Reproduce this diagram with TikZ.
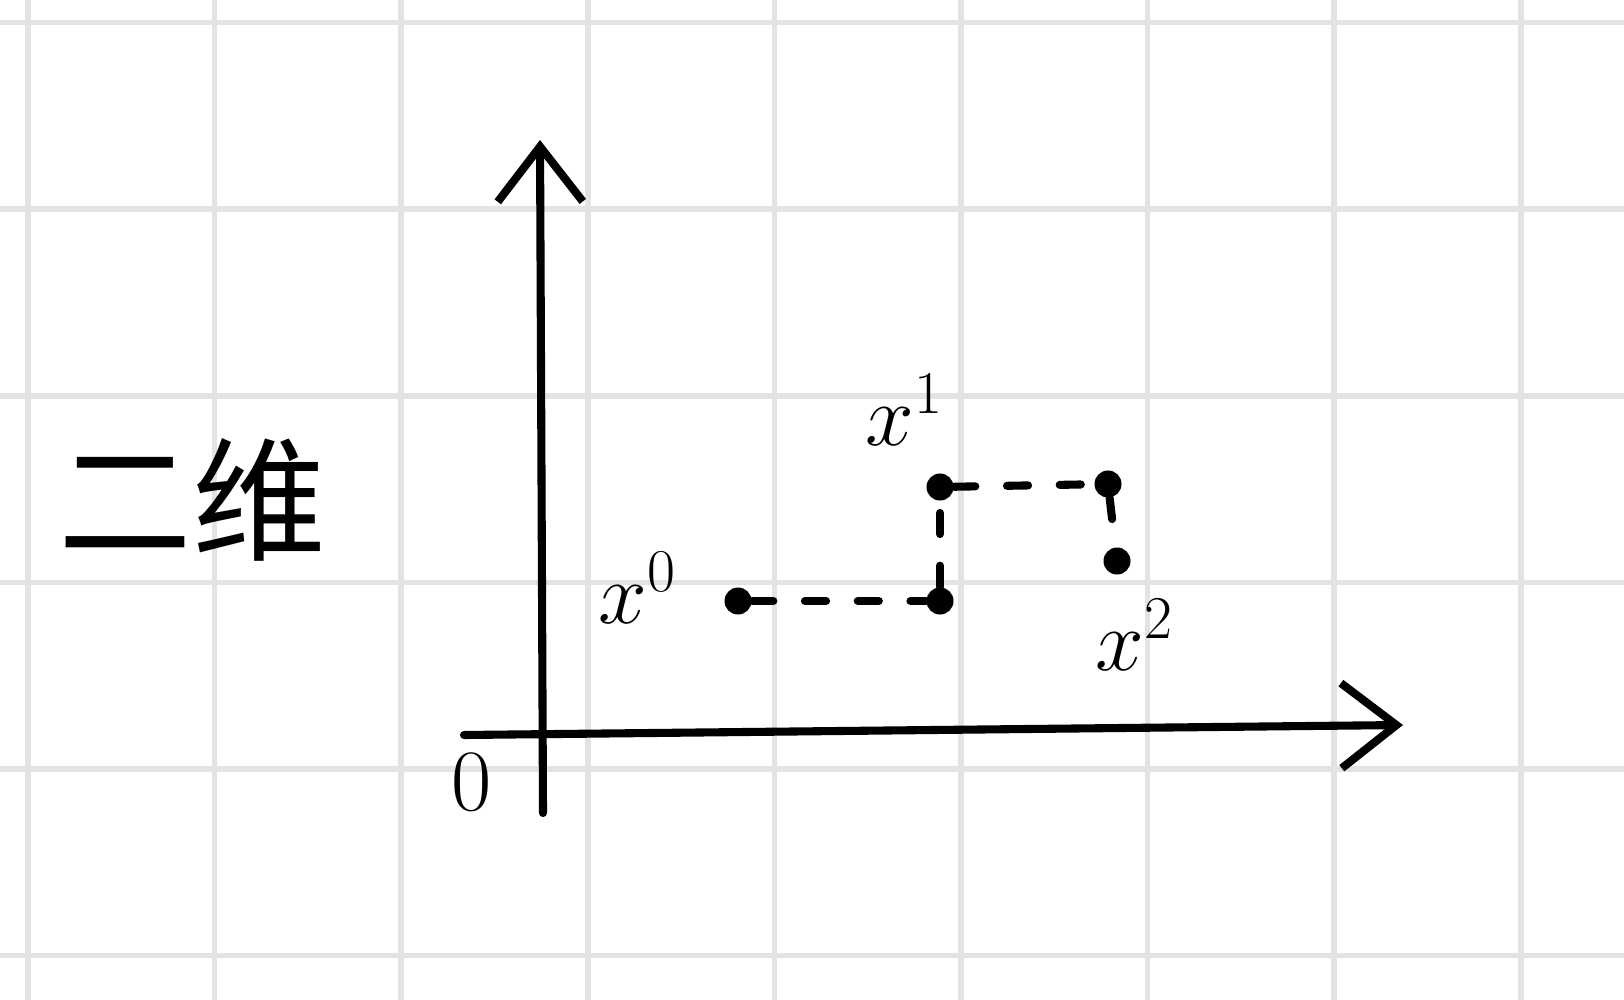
\documentclass[tikz,border=0pt]{standalone}
\usepackage{fontspec}
\newfontfamily\cjk{Noto Sans CJK SC}
\usetikzlibrary{arrows.meta, positioning}
\definecolor{gridgray}{HTML}{E3E3E3}

\begin{document}
\begin{tikzpicture}[x=0.01cm, y=-0.01cm, >={Straight Barb[length=5.5mm, width=8.5mm]},
	pen/.style={line width=2.3pt, line cap=round, line join=round},
	dashpen/.style={pen, dash pattern=on 6pt off 9pt},
	dot/.style={circle, fill, inner sep=0pt, minimum size=0.27cm},
	lbl/.style={inner sep=0pt, font=\fontsize{36}{42}\selectfont}]
	\useasboundingbox (0,0) rectangle (1624,1000);

	% paper grid
	\foreach \gx in {0,...,8}
		\draw[line width=1.6pt, gridgray] ({28+186.6*\gx},0) -- ({28+186.6*\gx},1000);
	\foreach \gy in {0,...,5}
		\draw[line width=1.6pt, gridgray] (0,{22.6+186.6*\gy}) -- (1624,{22.6+186.6*\gy});

	% axes
	\coordinate (O) at (540,735);
	\coordinate (xend) at (1403,725);
	\coordinate (xstart) at (464,735);
	\coordinate (yend) at (540,140);
	\coordinate (ystart) at (543,813);
	\draw[pen, ->] (xstart) -- (xend);
	\draw[pen, ->] (ystart) -- (yend);
	\node[inner sep=0pt, font=\fontsize{24}{28}\selectfont] (zero) at (472,782) {$0$};

	% points
	\node[dot] (p0) at (738,601) {};
	\node[dot] (p1) at (940,601) {};
	\node[dot] (p2) at (940,487) {};
	\node[dot] (p3) at (1108,484) {};
	\node[dot] (p4) at (1117,561) {};

	\draw[dashpen] (p0) -- (p1);
	\draw[dashpen] (p1) -- (p2);
	\draw[dashpen] (p2) -- (p3);
	\draw[dashpen] (p3) -- (p4);

	\node[lbl] (x0) at (638,588) {$x^{\scriptscriptstyle 0}$};
	\node[lbl] (x1) at (905,410) {$x^{\scriptscriptstyle 1}$};
	\node[lbl] (x2) at (1135,635) {$x^{\scriptscriptstyle 2}$};

	\node[font=\cjk\fontsize{38}{44}\selectfont] (title) at (192,500) {二维};
\end{tikzpicture}
\end{document}
